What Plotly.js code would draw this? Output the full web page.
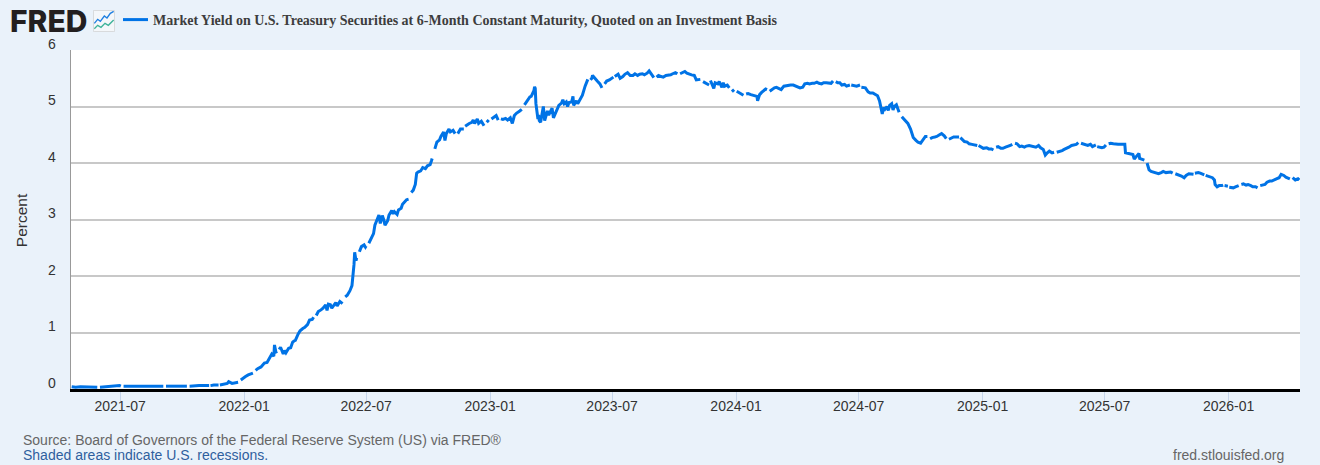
<!DOCTYPE html>
<html><head><meta charset="utf-8">
<script src="https://cdn.plot.ly/plotly-3.0.1.min.js"></script>
<style>html,body{margin:0;padding:0;background:#EAF2FA}#c{width:1320px;height:465px}</style></head>
<body><div id="c"></div>
<script>
const seriesName = "Market Yield on U.S. Treasury Securities at 6-Month Constant Maturity, Quoted on an Investment Basis";
const yTicks = [0,1,2,3,4,5,6];
const xTickVals = ["2021-07-01","2022-01-01","2022-07-01","2023-01-01","2023-07-01","2024-01-01","2024-07-01","2025-01-01","2025-07-01","2026-01-01"];
const xTickText = ["2021-07","2022-01","2022-07","2023-01","2023-07","2024-01","2024-07","2025-01","2025-07","2026-01"];

const dates2021 = ["04-20","04-26","05-03","05-10","05-17","05-24","05-28","05-31","06-01","06-08","06-15","06-22","06-30","07-02","07-05","07-06","07-13","07-20","07-27","08-03","08-10","08-17","08-24","08-31","09-03","09-06","09-07","09-14","09-21","09-28","10-05","10-08","10-11","10-12","10-19","10-26","11-02","11-10","11-11","11-12","11-17","11-24","11-25","11-26","12-01","12-07","12-09","12-14","12-23","12-24","12-27","12-30"];
const yields2021 = [.04,.03,.04,.04,.03,.03,.03,null,.03,.04,.05,.05,.06,.05,null,.05,.05,.05,.05,.05,.05,.05,.05,.05,.05,null,.05,.05,.05,.05,.05,.05,null,.05,.06,.06,.06,.06,null,.06,.07,.07,null,.07,.08,.10,.13,.10,.12,null,.16,.18];

const dates2022 = ["01-03","01-07","01-14","01-17","01-18","01-21","01-26","01-31","02-04","02-08","02-11","02-14","02-15","02-17","02-18","02-21","02-22","02-24","02-28","03-02","03-04","03-08","03-11","03-14","03-16","03-18","03-22","03-25","03-29","04-01","04-05","04-08","04-12","04-14","04-15","04-18","04-21","04-25","04-28","05-02","05-04","05-06","05-09","05-11","05-13","05-17","05-19","05-23","05-27","05-30","05-31","06-03","06-07","06-10","06-13","06-14","06-16","06-17","06-20","06-21","06-24","06-28","06-30","07-01","07-04","07-05","07-08","07-12","07-14","07-18","07-20","07-22","07-25","07-27","07-29","08-02","08-04","08-08","08-10","08-12","08-16","08-18","08-22","08-24","08-26","08-30","09-02","09-05","09-06","09-09","09-12","09-14","09-16","09-20","09-23","09-27","09-30","10-04","10-06","10-07","10-10","10-11","10-14","10-18","10-20","10-24","10-26","10-28","11-01","11-03","11-07","11-10","11-11","11-14","11-16","11-18","11-23","11-24","11-25","11-29","12-01","12-05","12-07","12-09","12-13","12-15","12-19","12-23","12-26","12-27","12-30"];
const yields2022 = [.22,.25,.28,null,.33,.36,.39,.46,.47,.55,.62,.58,.78,.66,.63,null,.70,.74,.62,.68,.64,.72,.73,.83,.85,.86,.97,1.03,1.07,1.09,1.14,1.22,1.23,1.27,null,1.30,1.37,1.40,1.43,1.49,1.39,1.50,1.49,1.43,1.47,1.53,1.47,1.55,1.51,null,1.63,1.66,1.74,1.83,2.20,2.42,2.27,2.32,null,2.43,2.52,2.55,2.51,2.53,null,2.58,2.66,2.75,2.90,3.00,3.08,2.93,3.07,3.00,2.90,2.98,3.08,3.16,3.10,3.14,3.09,3.17,3.20,3.27,3.30,3.35,3.36,null,3.48,3.52,3.62,3.82,3.84,3.86,3.92,3.90,3.95,3.97,4.04,4.08,null,4.25,4.37,4.41,4.47,4.55,4.40,4.52,4.60,4.55,4.58,4.52,null,4.52,4.56,4.60,4.60,null,4.65,4.69,4.70,4.72,4.76,4.70,4.78,4.70,4.74,4.66,null,4.72,4.76];

const dates2023 = ["01-02","01-03","01-06","01-10","01-13","01-16","01-17","01-20","01-24","01-27","01-31","02-03","02-06","02-09","02-14","02-17","02-20","02-21","02-27","03-01","03-03","03-07","03-08","03-09","03-10","03-13","03-14","03-15","03-17","03-20","03-21","03-23","03-27","03-29","04-03","04-05","04-10","04-13","04-17","04-19","04-21","04-24","04-26","04-28","05-02","05-04","05-05","05-09","05-11","05-15","05-18","05-22","05-24","05-26","05-29","05-30","06-01","06-02","06-05","06-07","06-09","06-13","06-15","06-16","06-19","06-20","06-23","06-27","07-03","07-04","07-05","07-10","07-13","07-17","07-20","07-24","07-28","08-01","08-04","08-08","08-11","08-15","08-18","08-22","08-25","08-29","09-01","09-04","09-05","09-08","09-12","09-15","09-19","09-22","09-26","09-29","10-03","10-06","10-09","10-10","10-13","10-17","10-20","10-24","10-27","10-31","11-03","11-09","11-10","11-13","11-16","11-20","11-22","11-23","11-24","11-29","12-01","12-05","12-07","12-11","12-13","12-15","12-19","12-22","12-25","12-26","12-29"];
const yields2023 = [null,4.78,4.80,4.84,4.76,null,4.78,4.77,4.79,4.76,4.80,4.70,4.84,4.88,4.92,4.95,null,5.03,5.13,5.17,5.18,5.28,5.35,5.32,5.05,4.78,4.85,4.75,4.72,4.98,5.00,4.75,4.92,4.85,4.97,4.80,4.92,5.02,5.06,5.12,5.05,5.08,5.00,5.07,5.08,5.18,5.02,5.10,5.05,5.14,5.20,5.36,5.44,5.48,null,5.47,5.50,5.55,5.50,5.48,5.45,5.40,5.35,5.33,null,5.40,5.45,5.47,5.52,null,5.53,5.57,5.50,5.53,5.57,5.60,5.55,5.55,5.58,5.55,5.57,5.58,5.56,5.59,5.63,5.55,5.51,null,5.52,5.55,5.53,5.52,5.55,5.55,5.56,5.58,5.60,5.58,null,5.58,5.60,5.62,5.59,5.57,5.56,5.55,5.47,5.48,null,5.44,5.42,5.40,5.38,null,5.46,5.32,5.42,5.40,5.44,5.34,5.42,5.36,5.38,5.33,null,5.30,5.26];

const dates2024 = ["01-01","01-02","01-05","01-09","01-12","01-15","01-16","01-19","01-23","01-26","01-30","02-01","02-02","02-05","02-08","02-12","02-14","02-16","02-19","02-20","02-23","02-27","03-01","03-05","03-08","03-12","03-15","03-19","03-22","03-26","04-02","04-05","04-09","04-12","04-16","04-19","04-23","04-26","04-30","05-03","05-07","05-10","05-14","05-17","05-21","05-24","05-27","05-28","05-31","06-03","06-06","06-10","06-13","06-18","06-19","06-20","06-25","06-28","07-03","07-04","07-05","07-11","07-15","07-18","07-22","07-25","07-29","08-01","08-02","08-05","08-07","08-09","08-12","08-14","08-16","08-19","08-21","08-23","08-26","08-28","08-30","09-02","09-03","09-06","09-10","09-12","09-16","09-18","09-20","09-24","09-27","10-01","10-04","10-08","10-11","10-14","10-15","10-18","10-22","10-25","10-29","11-01","11-05","11-08","11-11","11-12","11-15","11-19","11-22","11-27","11-28","11-29","12-05","12-09","12-12","12-16","12-24","12-25","12-26","12-31"];
const yields2024 = [null,5.27,5.25,5.23,5.20,null,5.22,5.23,5.21,5.20,5.19,5.18,5.10,5.21,5.25,5.29,5.31,5.30,null,5.27,5.30,5.33,5.34,5.32,5.30,5.36,5.37,5.37,5.38,5.38,5.35,5.33,5.34,5.40,5.41,5.40,5.41,5.41,5.43,5.41,5.40,5.42,5.42,5.41,5.41,5.45,null,5.44,5.42,5.42,5.38,5.39,5.36,5.38,null,5.38,5.37,5.36,5.38,null,5.34,5.33,5.26,5.24,5.24,5.22,5.19,5.10,5.02,4.87,4.98,4.95,5.00,4.93,5.02,5.05,4.94,5.00,5.03,4.98,4.90,null,4.82,4.78,4.72,4.70,4.60,4.52,4.45,4.40,4.37,4.35,4.40,4.47,4.47,null,4.43,4.45,4.46,4.47,4.50,4.52,4.48,4.43,null,4.42,4.44,4.46,4.46,4.46,null,4.45,4.38,4.37,4.34,4.33,4.31,null,4.31,4.28];

const dates2025 = ["01-02","01-07","01-10","01-14","01-17","01-20","01-21","01-24","01-28","01-31","02-04","02-07","02-11","02-14","02-17","02-18","02-21","02-25","02-28","03-04","03-07","03-11","03-14","03-18","03-21","03-25","03-28","04-01","04-04","04-07","04-10","04-14","04-17","04-18","04-21","04-25","04-29","05-02","05-06","05-09","05-13","05-16","05-20","05-23","05-26","05-27","05-30","06-03","06-06","06-10","06-13","06-18","06-19","06-20","06-27","06-30","07-03","07-04","07-07","07-10","07-14","07-17","07-21","07-24","07-28","07-31","08-01","08-05","08-08","08-12","08-14","08-18","08-21","08-22","08-26","08-29","09-01","09-02","09-05","09-08","09-11","09-15","09-19","09-23","09-26","09-30","10-03","10-07","10-10","10-13","10-14","10-20","10-23","10-27","10-30","11-03","11-10","11-11","11-12","11-17","11-20","11-26","11-27","11-28","12-04","12-08","12-11","12-12","12-15","12-18","12-22","12-24","12-25","12-26","12-31"];
const yields2025 = [4.26,4.27,4.25,4.25,4.23,null,4.28,4.29,4.26,4.26,4.28,4.29,4.31,4.33,null,4.35,4.34,4.29,4.30,4.28,4.30,4.31,4.30,4.29,4.28,4.31,4.27,4.24,4.14,4.18,4.21,4.18,4.19,null,4.19,4.20,4.22,4.24,4.26,4.28,4.31,4.32,4.33,4.36,null,4.35,4.34,4.33,4.31,4.33,4.29,4.32,null,4.29,4.27,4.28,4.32,null,4.34,4.35,4.34,4.33,4.33,4.33,4.33,4.33,4.18,4.17,4.16,4.15,4.07,4.14,4.17,4.08,4.07,4.05,null,4.00,3.88,3.85,3.84,3.82,3.81,3.83,3.85,3.83,3.84,3.84,3.82,null,3.81,3.79,3.77,3.74,3.78,3.81,3.80,null,3.82,3.83,3.82,3.79,null,3.78,3.75,3.74,3.70,3.62,3.58,3.60,3.60,3.61,null,3.60,3.59];

const dates2026 = ["01-01","01-02","01-08","01-12","01-16","01-19","01-20","01-23","01-27","01-30","02-03","02-06","02-10","02-13","02-16","02-17","02-20","02-24","02-27","03-03","03-06","03-10","03-13","03-17","03-20","03-24","03-27","03-31","04-02","04-03","04-06","04-10","04-14","04-16"];
const yields2026 = [null,3.57,3.56,3.58,3.60,null,3.62,3.63,3.61,3.62,3.60,3.58,3.58,3.56,null,3.60,3.61,3.62,3.66,3.68,3.68,3.71,3.72,3.74,3.80,3.78,3.75,3.73,3.72,null,3.74,3.70,3.72,3.70];

const years = [[2021,dates2021,yields2021],[2022,dates2022,yields2022],[2023,dates2023,yields2023],[2024,dates2024,yields2024],[2025,dates2025,yields2025],[2026,dates2026,yields2026]];
const xs = [], ys = [];
years.forEach(([yr,d,v]) => d.forEach((m,i) => { xs.push(yr+"-"+m); ys.push(v[i]); }));

const W = 1320, H = 465, ML = 71, MR = 20, MT = 50, MB = 76;
const px = x => (x-ML)/(W-ML-MR), py = y => 1-(y-MT)/(H-MT-MB);
const note = (x,y,text,size,color,anchor,family,extra) => Object.assign({xref:"paper",yref:"paper",x:px(x),y:py(y),text,showarrow:false,xanchor:anchor||"left",yanchor:"middle",font:{family:family||"Liberation Sans, Arial, sans-serif",size,color},align:"left"},extra||{});
const icon = 'data:image/svg+xml;utf8,' + encodeURIComponent('<svg xmlns="http://www.w3.org/2000/svg" width="66" height="66" viewBox="0 0 66 66"><rect x="1" y="1" width="64" height="64" rx="3" fill="#f4f7fa" stroke="#c4c4c4" stroke-width="2"/><polyline points="4,40 14,28 22,34 34,18 42,24 52,10 62,4" fill="none" stroke="#1f7fe0" stroke-width="4"/><polyline points="4,56 14,46 24,52 36,40 46,46 62,30" fill="none" stroke="#3fb39a" stroke-width="4"/></svg>');

Plotly.newPlot("c",[{
  x: xs, y: ys, type:"scatter", mode:"lines", name: seriesName, connectgaps:false,
  line:{color:"#0073E6",width:3,shape:"linear"}, hoverinfo:"x+y"
}],{
  width:W,height:H,
  paper_bgcolor:"#EAF2FA",plot_bgcolor:"#FFFFFF",
  margin:{l:ML,r:MR,t:MT,b:MB,pad:0,autoexpand:false},
  font:{family:"Liberation Sans, Arial, sans-serif",size:14,color:"#333333"},
  showlegend:true,
  legend:{x:px(113),y:py(4),xanchor:"left",yanchor:"top",bgcolor:"rgba(0,0,0,0)",borderwidth:0,
    font:{family:"Liberation Serif, Times New Roman, serif",size:14,color:"#3d3d3d",weight:700}},
  xaxis:{type:"date",range:["2021-04-19","2026-04-17"],tickmode:"array",tickvals:xTickVals,ticktext:xTickText,
    showgrid:false,zeroline:false,showline:true,linecolor:"#000000",linewidth:2.5,
    ticks:"outside",ticklen:10,tickwidth:1,tickcolor:"#C5D5EA",ticklabelstandoff:-7,
    tickfont:{size:14,color:"#333333"}},
  yaxis:{range:[0,6],tickmode:"array",tickvals:yTicks,ticktext:yTicks.map(String),
    showgrid:true,gridcolor:"#C8C8C8",gridwidth:2,zeroline:false,showline:true,linecolor:"#999999",linewidth:1.5,
    ticks:"",ticklabelposition:"outside top",ticklabelstandoff:11,tickfont:{size:14,color:"#333333"},
    title:{text:"Percent",standoff:10,font:{size:15.5,color:"#333333"}},automargin:false},
  images:[{source:icon,xref:"paper",yref:"paper",x:px(93),y:py(10),sizex:22/(W-ML-MR),sizey:22/(H-MT-MB),xanchor:"left",yanchor:"top",sizing:"stretch",layer:"above"}],
  annotations:[
    {xref:"paper",yref:"paper",x:px(9),y:py(21),text:"FRED",showarrow:false,xanchor:"left",yanchor:"middle",xshift:-1,
     font:{family:"Inter, Liberation Sans, sans-serif",size:30,weight:800,color:"#231F20"}},
    note(23,440,"Source: Board of Governors of the Federal Reserve System (US) via FRED®",14,"#666666","left",null,{xshift:-2}),
    note(23,455,"Shaded areas indicate U.S. recessions.",14,"#2F5F9E","left",null,{xshift:-2}),
    note(1284,455,"fred.stlouisfed.org",14,"#666666","right",null,{xshift:2})
  ]
},{displayModeBar:false,staticPlot:true}).then(gd => {
  gd.querySelectorAll(".ytick text").forEach(t => t.setAttribute("transform",(t.getAttribute("transform")||"")+" translate(0,3.5)"));
  const yt = gd.querySelector(".ytitle");
  if (yt) yt.setAttribute("transform","translate(-6,1) "+(yt.getAttribute("transform")||""));
  gd.querySelectorAll(".legendlines path").forEach(p => p.setAttribute("d","M10,0h25"));
});
</script></body></html>
